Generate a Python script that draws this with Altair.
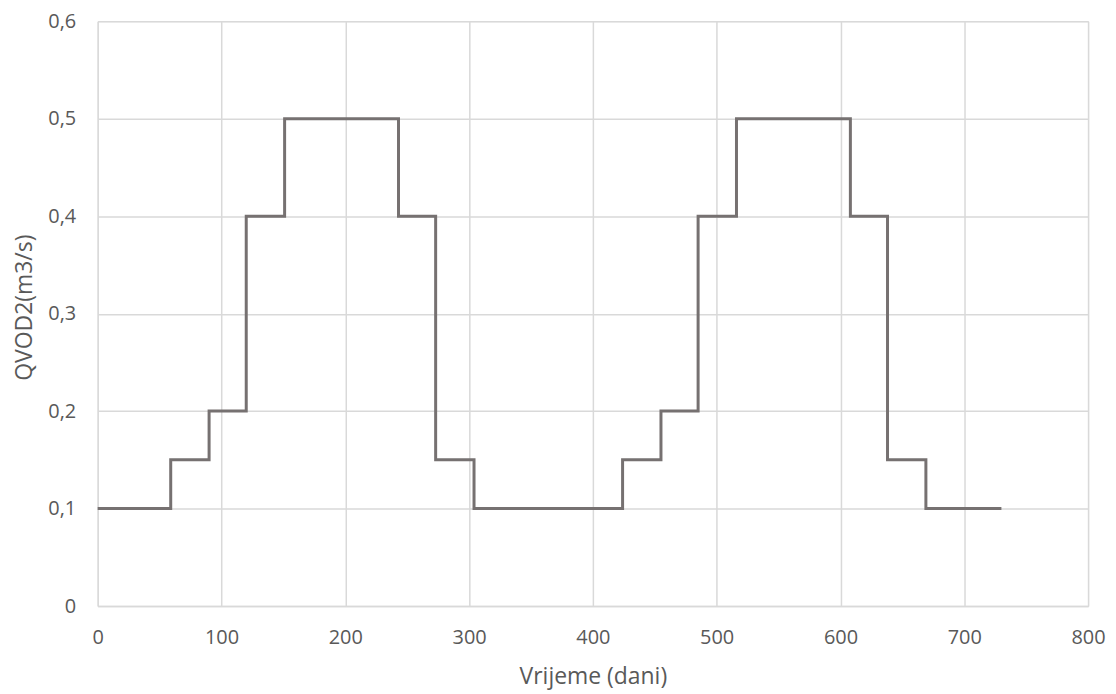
import altair as alt
import pandas as pd

days = [0, 59, 90, 120, 151, 243, 273, 304, 424, 455, 485, 516, 608, 638, 669, 730]
qvod = [0.1, 0.15, 0.2, 0.4, 0.5, 0.4, 0.15, 0.1, 0.15, 0.2, 0.4, 0.5, 0.4, 0.15, 0.1, 0.1]
x_ticks = [0, 100, 200, 300, 400, 500, 600, 700, 800]
y_ticks = [0, 0.1, 0.2, 0.3, 0.4, 0.5, 0.6]

df = pd.DataFrame({"dan": days, "q": qvod})

FONT = "Open Sans"
label_expr = "datum.value == 0 ? '0' : replace(format(datum.value, '.1f'), '.', ',')"

chart = (
    alt.Chart(df)
    .mark_line(interpolate="step-after", color="#767171", strokeWidth=3)
    .encode(
        x=alt.X(
            "dan:Q",
            scale=alt.Scale(domain=[0, 800], nice=False),
            axis=alt.Axis(
                title="Vrijeme (dani)",
                values=x_ticks,
                ticks=False,
                domain=True,
                domainColor="#d9d9d9",
                domainWidth=1.5,
                gridColor="#d9d9d9",
                gridWidth=1.5,
                labelFlush=False,
                labelOverlap=False,
                labelPadding=22,
                labelFont=FONT,
                labelFontSize=20,
                labelColor="#595959",
                titleFont=FONT,
                titleFontSize=23,
                titleFontWeight="normal",
                titleColor="#595959",
                titleX=497,
                titleY=78,
                titleBaseline="alphabetic",
                titleAlign="center",
            ),
        ),
        y=alt.Y(
            "q:Q",
            scale=alt.Scale(domain=[0, 0.6], nice=False),
            axis=alt.Axis(
                title="QVOD2(m3/s)",
                values=y_ticks,
                labelExpr=label_expr,
                labelFlush=False,
                labelOverlap=False,
                ticks=False,
                domain=False,
                gridColor="#d9d9d9",
                gridWidth=1.5,
                labelPadding=22,
                labelFont=FONT,
                labelFontSize=20,
                labelColor="#595959",
                titleFont=FONT,
                titleFontSize=23,
                titleFontWeight="normal",
                titleColor="#595959",
                titleX=-73,
                titleY=287,
                titleAngle=-90,
                titleBaseline="middle",
                titleAlign="center",
            ),
        ),
    )
    .properties(
        width=994,
        height=587,
        autosize=alt.AutoSizeParams(type="none"),
        padding={"left": 90, "top": 12, "right": 20, "bottom": 86},
    )
    .configure_view(stroke=None)
    .configure(background="white")
)

chart.save("out.html", embed_options={"renderer": "svg", "actions": False})
